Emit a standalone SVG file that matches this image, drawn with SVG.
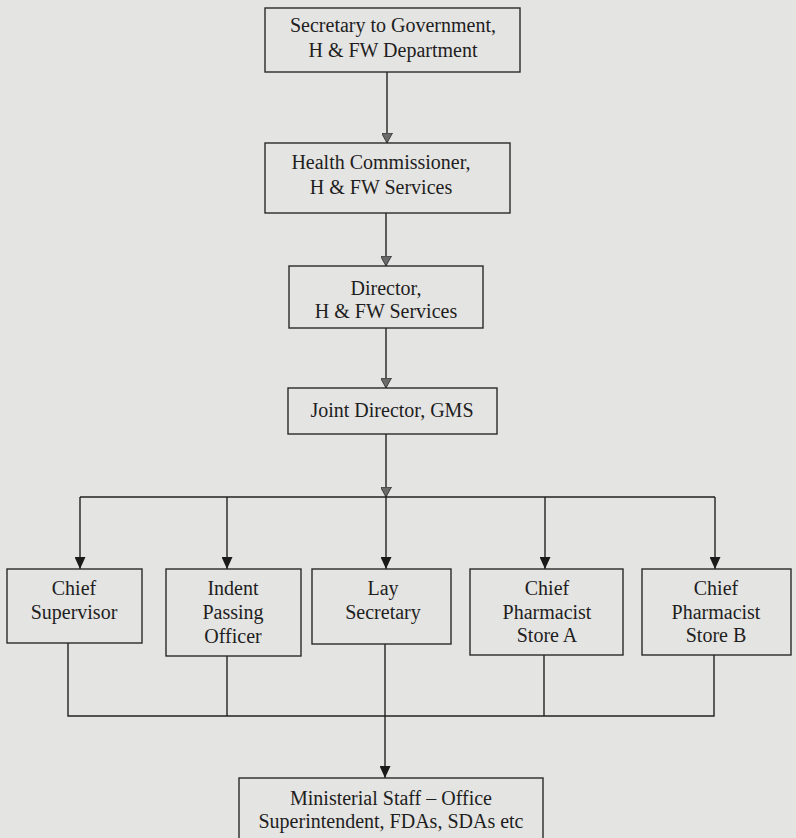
<svg xmlns="http://www.w3.org/2000/svg" width="796" height="838" viewBox="0 0 796 838">
  <defs>
    <!-- grey arrowheads along the upper chain (drawn along +x, rotated by orient) -->
    <marker id="arrowGrey" markerWidth="10" markerHeight="11" refX="10" refY="5.5" orient="auto" markerUnits="userSpaceOnUse" viewBox="0 0 10 11">
      <path d="M0,0 L10,5.5 L0,11 Z" fill="#6a6a6a" stroke="#2a2a2a" stroke-width="0.8"/>
    </marker>
    <!-- solid black arrowheads for the lower tiers -->
    <marker id="arrowBlack" markerWidth="12" markerHeight="11" refX="12" refY="5.5" orient="auto" markerUnits="userSpaceOnUse" viewBox="0 0 12 11">
      <path d="M0,0 L12,5.5 L0,11 Z" fill="#1a1a1a"/>
    </marker>
  </defs>
  <style>
    .box { fill: #e4e4e2; stroke: #2a2a2a; stroke-width: 1.4; }
    .lbl { font-family: 'Liberation Serif', 'DejaVu Serif', serif; font-size: 20px; fill: #1e1e1e; text-anchor: middle; }
    .wire { fill: none; stroke: #222; stroke-width: 1.4; }
  </style>

  <rect x="0" y="0" width="796" height="838" fill="#e4e4e2"/>

  <!-- connectors -->
  <g id="connectors">
    <line class="wire" x1="387" y1="72" x2="387" y2="143" marker-end="url(#arrowGrey)"/>
    <line class="wire" x1="386" y1="213" x2="386" y2="266" marker-end="url(#arrowGrey)"/>
    <line class="wire" x1="386" y1="328" x2="386" y2="388" marker-end="url(#arrowGrey)"/>
    <line class="wire" x1="386" y1="434" x2="386" y2="497" marker-end="url(#arrowGrey)"/>
    <!-- distribution bus -->
    <line class="wire" x1="80" y1="497" x2="715" y2="497"/>
    <line class="wire" x1="80" y1="497" x2="80" y2="569" marker-end="url(#arrowBlack)"/>
    <line class="wire" x1="227" y1="497" x2="227" y2="569" marker-end="url(#arrowBlack)"/>
    <line class="wire" x1="386" y1="497" x2="386" y2="569" marker-end="url(#arrowBlack)"/>
    <line class="wire" x1="545" y1="497" x2="545" y2="569" marker-end="url(#arrowBlack)"/>
    <line class="wire" x1="715" y1="497" x2="715" y2="569" marker-end="url(#arrowBlack)"/>
    <!-- collection bus -->
    <polyline class="wire" points="68,643 68,716 714,716 714,655"/>
    <line class="wire" x1="227" y1="656" x2="227" y2="716"/>
    <line class="wire" x1="544" y1="655" x2="544" y2="716"/>
    <line class="wire" x1="385" y1="644" x2="385" y2="778" marker-end="url(#arrowBlack)"/>
  </g>

  <g id="secretary">
    <rect class="box" x="265" y="8" width="255" height="64"/>
    <text class="lbl" x="393" y="32">Secretary to Government,</text>
    <text class="lbl" x="393" y="57">H &amp; FW Department</text>
  </g>

  <g id="commissioner">
    <rect class="box" x="265" y="143" width="245" height="70"/>
    <text class="lbl" x="381" y="169">Health Commissioner,</text>
    <text class="lbl" x="381" y="194">H &amp; FW Services</text>
  </g>

  <g id="director">
    <rect class="box" x="289" y="266" width="194" height="62"/>
    <text class="lbl" x="386" y="295">Director,</text>
    <text class="lbl" x="386" y="318">H &amp; FW Services</text>
  </g>

  <g id="joint-director">
    <rect class="box" x="288" y="388" width="209" height="46"/>
    <text class="lbl" x="392" y="417">Joint Director, GMS</text>
  </g>

  <g id="chief-supervisor">
    <rect class="box" x="7" y="569" width="135" height="74"/>
    <text class="lbl" x="74" y="595">Chief</text>
    <text class="lbl" x="74" y="619">Supervisor</text>
  </g>

  <g id="indent-officer">
    <rect class="box" x="166" y="569" width="135" height="87"/>
    <text class="lbl" x="233" y="595">Indent</text>
    <text class="lbl" x="233" y="619">Passing</text>
    <text class="lbl" x="233" y="643">Officer</text>
  </g>

  <g id="lay-secretary">
    <rect class="box" x="312" y="569" width="139" height="75"/>
    <text class="lbl" x="383" y="595">Lay</text>
    <text class="lbl" x="383" y="619">Secretary</text>
  </g>

  <g id="pharmacist-a">
    <rect class="box" x="470" y="569" width="153" height="86"/>
    <text class="lbl" x="547" y="595">Chief</text>
    <text class="lbl" x="547" y="619">Pharmacist</text>
    <text class="lbl" x="547" y="642">Store A</text>
  </g>

  <g id="pharmacist-b">
    <rect class="box" x="642" y="569" width="149" height="86"/>
    <text class="lbl" x="716" y="595">Chief</text>
    <text class="lbl" x="716" y="619">Pharmacist</text>
    <text class="lbl" x="716" y="642">Store B</text>
  </g>

  <g id="ministerial-staff">
    <rect class="box" x="239" y="778" width="304" height="70"/>
    <text class="lbl" x="391" y="805">Ministerial Staff – Office</text>
    <text class="lbl" x="391" y="828">Superintendent, FDAs, SDAs etc</text>
  </g>
</svg>
